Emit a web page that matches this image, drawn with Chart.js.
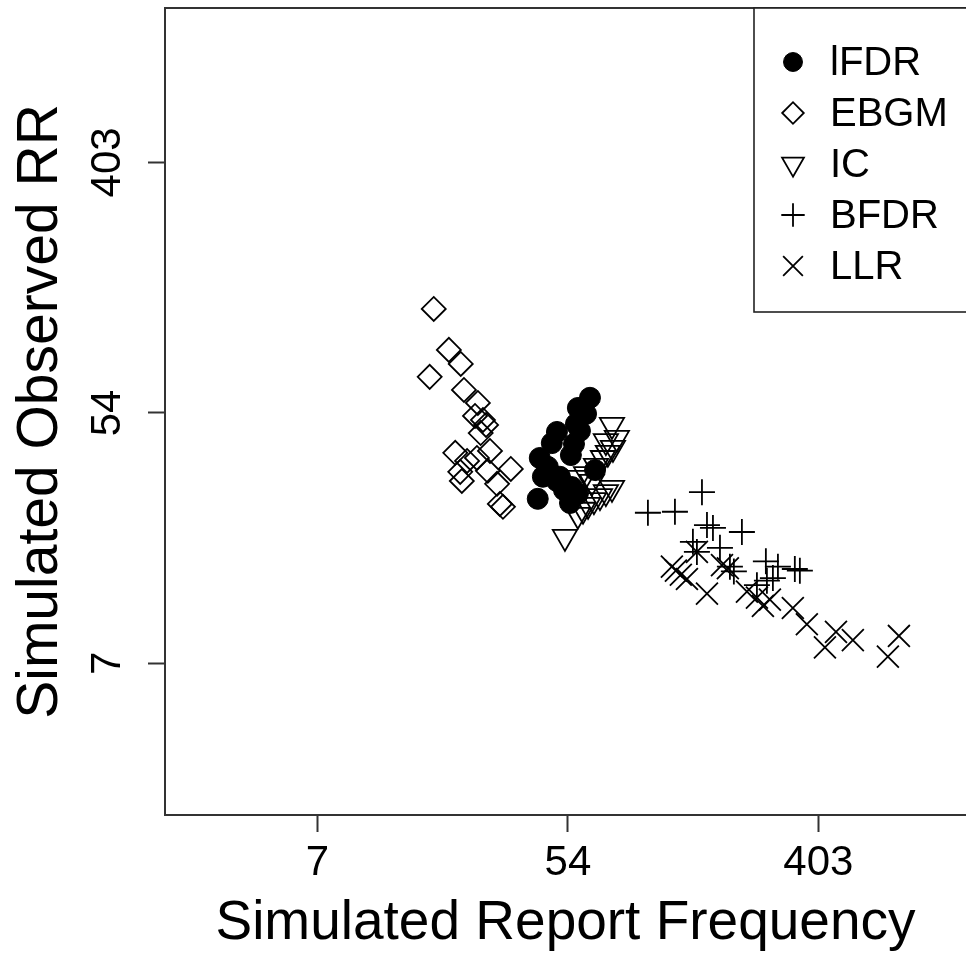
<!DOCTYPE html>
<html>
<head>
<meta charset="utf-8">
<script src="https://cdn.jsdelivr.net/npm/chart.js@4/dist/chart.umd.min.js"></script>
<style>
  html, body { margin: 0; padding: 0; background: #fff; overflow: hidden; }
  #c { display: block; }
</style>
</head>
<body>
<canvas id="c" width="966" height="957"></canvas>
<script>
// ---- data ----
const seriesNames = ['lFDR', 'EBGM', 'IC', 'BFDR', 'LLR'];

const lfdrX = [65.1, 59.1, 63.1, 58.2, 50.0, 60.1, 48.0, 57.3, 43.6, 55.9, 46.5, 67.8, 44.7, 51.2, 56.4, 52.9, 42.9, 59.1, 55.5, 50.0];
const lfdrY = [61.6, 56.8, 54.2, 50.0, 46.9, 47.3, 42.9, 42.6, 38.1, 39.0, 35.5, 34.6, 32.8, 32.8, 30.2, 29.5, 27.5, 28.6, 26.6, 31.7];

const ebgmX = [18.7, 21.1, 23.2, 18.1, 23.8, 26.6, 26.0, 27.7, 28.4, 27.2, 29.3, 22.2, 24.4, 26.4, 23.1, 34.6, 28.8, 23.4, 31.0, 31.7, 32.5];
const ebgmY = [125.2, 90.3, 80.7, 72.8, 65.6, 59.1, 53.3, 51.6, 49.6, 46.5, 40.3, 39.7, 37.2, 38.1, 34.1, 34.9, 34.4, 31.7, 31.0, 26.4, 25.8];

const icX = [77.6, 80.7, 73.9, 78.2, 75.1, 72.2, 68.3, 63.1, 59.6, 77.6, 73.9, 70.5, 67.2, 64.1, 61.6, 59.1, 53.3, 66.1];
const icY = [49.6, 44.7, 43.6, 41.3, 39.7, 38.1, 35.8, 33.5, 32.5, 30.0, 29.0, 28.1, 27.2, 26.2, 25.2, 24.2, 20.3, 31.5];

const bfdrX = [159.2, 103.4, 128.3, 165.7, 173.8, 219.0, 148.1, 183.8, 199.0, 205.4, 265.2, 292.0, 334.2, 347.9, 267.4, 246.9, 152.9, 280.5];
const bfdrY = [29.0, 24.6, 24.8, 22.3, 21.8, 21.1, 19.5, 18.6, 16.0, 15.4, 16.7, 16.0, 15.7, 15.5, 14.3, 13.8, 18.0, 14.6];

const llrX = [125.2, 129.3, 134.5, 141.2, 152.9, 165.7, 186.8, 228.0, 246.9, 259.0, 273.9, 328.9, 367.9, 425.0, 464.2, 531.2, 767.3, 702.6, 195.8];
const llrY = [16.0, 15.5, 15.0, 14.5, 18.0, 12.9, 16.2, 13.1, 12.5, 11.7, 12.3, 11.5, 10.1, 8.4, 9.5, 8.9, 9.2, 7.8, 15.8];

const tickValues = [7.389, 54.598, 403.429];
const tickLabels = ['7', '54', '403'];

const xTitle = 'Simulated Report Frequency';
const yTitle = 'Simulated Observed RR';

// ---- build ----
const pts = (xs, ys) => xs.map((x, i) => ({ x: x, y: ys[i] }));
const INK = '#000';
const FONT = "'Liberation Sans', Arial, sans-serif";

const styles = [
  { pointStyle: 'circle',   radius: 10.5, rotation: 0,   bg: INK,                border: 1 },
  { pointStyle: 'rectRot',  radius: 12,   rotation: 0,   bg: 'rgba(0,0,0,0)',    border: 1.8 },
  { pointStyle: 'triangle', radius: 14,   rotation: 180, bg: 'rgba(0,0,0,0)',    border: 1.8 },
  { pointStyle: 'cross',    radius: 13,   rotation: 0,   bg: 'rgba(0,0,0,0)',    border: 1.8 },
  { pointStyle: 'crossRot', radius: 15.5, rotation: 0,   bg: 'rgba(0,0,0,0)',    border: 1.8 }
];
const seriesData = [pts(lfdrX, lfdrY), pts(ebgmX, ebgmY), pts(icX, icY), pts(bfdrX, bfdrY), pts(llrX, llrY)];

const datasets = seriesNames.map((name, i) => ({
  label: name,
  data: seriesData[i],
  pointStyle: styles[i].pointStyle,
  pointRadius: styles[i].radius,
  pointRotation: styles[i].rotation,
  pointBackgroundColor: styles[i].bg,
  pointBorderColor: INK,
  pointBorderWidth: styles[i].border,
  showLine: false
}));

const setTicks = (scale) => { scale.ticks = tickValues.map(v => ({ value: v })); };

const frameAndLegend = {
  id: 'frameAndLegend',
  afterDraw(chart) {
    const ctx = chart.ctx;
    const a = chart.chartArea;
    ctx.save();
    // top frame line
    ctx.strokeStyle = '#333';
    ctx.lineWidth = 2;
    ctx.beginPath();
    ctx.moveTo(a.left, a.top);
    ctx.lineTo(chart.width + 5, a.top);
    ctx.stroke();
    // legend box
    const bx = 754, by = a.top, bh = 304;
    ctx.fillStyle = '#fff';
    ctx.fillRect(bx, by, chart.width - bx + 5, bh);
    ctx.strokeStyle = '#222';
    ctx.lineWidth = 1.6;
    ctx.strokeRect(bx, by, chart.width - bx + 20, bh);
    chart.data.datasets.forEach((ds, i) => {
      const y = 62 + i * 51;
      ctx.fillStyle = ds.pointBackgroundColor;
      ctx.strokeStyle = INK;
      ctx.lineWidth = ds.pointBorderWidth;
      Chart.helpers.drawPoint(ctx, {
        pointStyle: ds.pointStyle,
        radius: ds.pointRadius * 0.9,
        rotation: ds.pointRotation,
        borderWidth: ds.pointBorderWidth
      }, 793, y);
      ctx.fillStyle = INK;
      ctx.font = '40px ' + FONT;
      ctx.textAlign = 'left';
      ctx.textBaseline = 'middle';
      ctx.fillText(ds.label, 830, y + 2);
    });
    ctx.restore();
  }
};

new Chart(document.getElementById('c'), {
  type: 'scatter',
  data: { datasets: datasets },
  options: {
    responsive: false,
    animation: false,
    devicePixelRatio: 1,
    layout: { padding: { top: 8, left: 0, right: 0, bottom: 0 }, autoPadding: false },
    plugins: { legend: { display: false }, tooltip: { enabled: false } },
    scales: {
      x: {
        type: 'logarithmic',
        position: 'bottom',
        min: 2.187,
        max: 1311,
        afterBuildTicks: setTicks,
        afterFit: (s) => { s.height = 142; s.paddingLeft = 0; s.paddingRight = 0; s.paddingTop = 0; s.paddingBottom = 0; },
        border: { display: true, color: '#333', width: 2 },
        grid: { drawOnChartArea: false, drawTicks: true, tickLength: 17, color: '#333', tickWidth: 2 },
        ticks: {
          color: INK, padding: 6, maxRotation: 0, minRotation: 0, autoSkip: false,
          font: { family: FONT, size: 42 },
          callback: (v, i) => tickLabels[i]
        },
        title: { display: true, text: xTitle, color: INK, padding: { top: 0, bottom: 0 }, font: { family: FONT, size: 55 } }
      },
      y: {
        type: 'logarithmic',
        position: 'left',
        min: 2.203,
        max: 1384,
        afterBuildTicks: setTicks,
        afterFit: (s) => { s.width = 165; s.paddingLeft = 0; s.paddingRight = 0; s.paddingTop = 0; s.paddingBottom = 0; },
        border: { display: true, color: '#333', width: 2 },
        grid: { drawOnChartArea: false, drawTicks: true, tickLength: 17, color: '#333', tickWidth: 2 },
        ticks: {
          color: INK, padding: 5, minRotation: 90, maxRotation: 90, crossAlign: 'center', autoSkip: false,
          font: { family: FONT, size: 42 },
          callback: (v, i) => tickLabels[i]
        },
        title: { display: true, text: yTitle, color: INK, padding: { top: 7, bottom: 0 }, font: { family: FONT, size: 57 } }
      }
    }
  },
  plugins: [frameAndLegend]
});
</script>
</body>
</html>
